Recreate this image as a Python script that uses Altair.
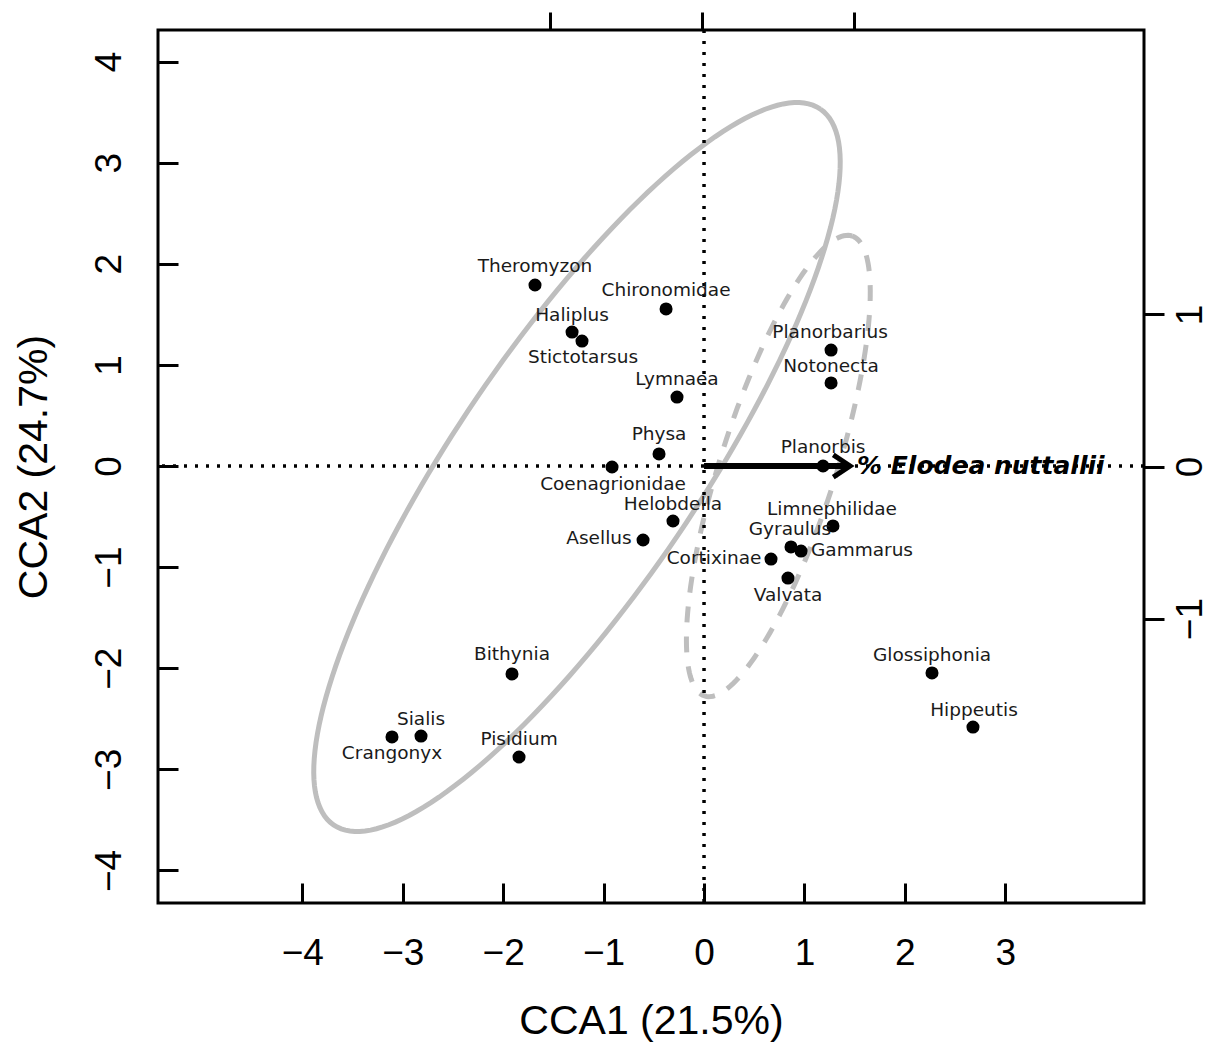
import math
import altair as alt
import pandas as pd

# ---- data ----
species = ["Theromyzon", "Chironomidae", "Haliplus", "Stictotarsus", "Planorbarius",
           "Notonecta", "Lymnaea", "Physa", "Coenagrionidae", "Planorbis", "Helobdella",
           "Limnephilidae", "Asellus", "Gyraulus", "Gammarus", "Cortixinae", "Valvata",
           "Bithynia", "Glossiphonia", "Hippeutis", "Sialis", "Crangonyx", "Pisidium"]
cca1 = [-1.683, -0.378, -1.314, -1.215, 1.265, 1.265, -0.269, -0.448, -0.916, 1.185, -0.309,
        1.284, -0.607, 0.866, 0.966, 0.667, 0.836, -1.912, 2.270, 2.678, -2.818, -3.107, -1.842]
cca2 = [1.790, 1.553, 1.325, 1.236, 1.147, 0.821, 0.682, 0.119, -0.010, 0.0, -0.544,
        -0.593, -0.732, -0.801, -0.841, -0.920, -1.108, -2.057, -2.047, -2.582, -2.671, -2.680, -2.878]
label_x = [-1.683, -0.378, -1.314, -1.205, 1.255, 1.265, -0.269, -0.448, -0.906, 1.185, -0.309,
           1.274, -1.046, 0.856, 1.573, 0.100, 0.836, -1.912, 2.270, 2.688, -2.818, -3.107, -1.842]
label_y = [1.974, 1.739, 1.490, 1.078, 1.325, 0.989, 0.857, 0.317, -0.178, 0.188, -0.376,
           -0.425, -0.712, -0.623, -0.831, -0.910, -1.272, -1.860, -1.869, -2.413, -2.500, -2.839, -2.700]

x_ticks = [-4, -3, -2, -1, 0, 1, 2, 3]
y_ticks = [-4, -3, -2, -1, 0, 1, 2, 3, 4]
top_ticks = [-1, 0, 1]
right_ticks = [-1, 0, 1]

x_domain = [-5.437, 4.381]
y_domain = [-4.322, 4.312]
top_domain = [-3.57, 2.90]
right_domain = [-2.87, 2.87]

arrow_end = [1.454]
arrow_label = ["% Elodea nuttallii"]
arrow_label_x = [1.523]

# ellipse parameters: centre x, centre y, semi-axis a, semi-axis b, rotation (deg)
ell_solid = dict(cx=-1.265, cy=-0.01, a=4.29, b=1.21, phi=55.6)
ell_dashed = dict(cx=0.74, cy=0.0, a=2.39, b=0.574, phi=72.1)

x_title = "CCA1 (21.5%)"
y_title = "CCA2 (24.7%)"

# ---- scales and axes ----
xs = alt.Scale(domain=x_domain, nice=False, zero=False)
ys = alt.Scale(domain=y_domain, nice=False, zero=False)

x_axis = alt.Axis(orient="bottom", values=x_ticks, offset=-20, tickSize=20, tickWidth=3,
                  tickColor="black", domain=False, grid=False, labelFont="Liberation Sans",
                  labelFontSize=37, labelColor="black", labelPadding=32, labelFlush=False,
                  labelOverlap=False, title=x_title, titleFont="Liberation Sans",
                  titleFontSize=41, titleFontWeight="normal", titleColor="black",
                  titlePadding=30)
y_axis = alt.Axis(orient="left", values=y_ticks, offset=-20, tickSize=20, tickWidth=3,
                  tickColor="black", domain=False, grid=False, labelFont="Liberation Sans",
                  labelFontSize=37, labelColor="black", labelPadding=30, labelAngle=270,
                  labelAlign="center", labelBaseline="bottom", labelFlush=False,
                  labelOverlap=False, title=y_title, titleFont="Liberation Sans",
                  titleFontSize=41, titleFontWeight="normal", titleColor="black",
                  titlePadding=35)


def X(field=None, datum=None):
    if datum is not None:
        return alt.X(datum=datum, type="quantitative", scale=xs, axis=x_axis)
    return alt.X(field, type="quantitative", scale=xs, axis=x_axis)


def Y(field=None, datum=None):
    if datum is not None:
        return alt.Y(datum=datum, type="quantitative", scale=ys, axis=y_axis)
    return alt.Y(field, type="quantitative", scale=ys, axis=y_axis)


df = pd.DataFrame({"species": species, "cca1": cca1, "cca2": cca2,
                   "lx": label_x, "ly": label_y})
arrow_df = pd.DataFrame({"x0": [0.0], "x1": arrow_end, "y": [0.0],
                         "label": arrow_label, "lx": arrow_label_x})


def ellipse(p, dash=None):
    phi = math.radians(p["phi"])
    ex = (f"{p['cx']} + {p['a']}*cos(datum.t*PI/180)*{math.cos(phi)}"
          f" - {p['b']}*sin(datum.t*PI/180)*{math.sin(phi)}")
    ey = (f"{p['cy']} + {p['a']}*cos(datum.t*PI/180)*{math.sin(phi)}"
          f" + {p['b']}*sin(datum.t*PI/180)*{math.cos(phi)}")
    kw = dict(color="#bebebe", strokeWidth=5)
    if dash:
        kw["strokeDash"] = dash
    return (alt.Chart(alt.sequence(0, 362, 2, as_="t"))
            .transform_calculate(ex=ex, ey=ey)
            .mark_line(**kw)
            .encode(x=X("ex"), y=Y("ey"), order="t:Q"))


solid = ellipse(ell_solid)
dashed = ellipse(ell_dashed, dash=[16, 14])

hline = alt.Chart(arrow_df).mark_rule(color="black", strokeWidth=3.5, strokeDash=[3, 8]).encode(
    y=Y(datum=0))
vline = alt.Chart(arrow_df).mark_rule(color="black", strokeWidth=3.5, strokeDash=[3, 8]).encode(
    x=X(datum=0))

arrow_line = alt.Chart(arrow_df).mark_rule(color="black", strokeWidth=6).encode(
    x=X("x0"), x2="x1", y=Y("y"))
arrow_head = alt.Chart(arrow_df).mark_point(
    shape="M -1.5 -1 L 0 0 L -1.5 1", filled=False, color="black", strokeWidth=5,
    size=500, opacity=1).encode(x=X("x1"), y=Y("y"))
arrow_text = alt.Chart(arrow_df).mark_text(
    align="left", baseline="middle", font="DejaVu Sans", fontSize=25, fontWeight="bold",
    fontStyle="italic", color="black").encode(x=X("lx"), y=Y("y"), text="label:N")

points = alt.Chart(df).mark_circle(color="black", size=170, opacity=1).encode(
    x=X("cca1"), y=Y("cca2"))
labels = alt.Chart(df).mark_text(
    align="center", baseline="middle", font="DejaVu Sans", fontSize=18.5,
    color="#1a1a1a").encode(x=X("lx"), y=Y("ly"), text="species:N")

main = alt.layer(solid, dashed, hline, vline, arrow_line, arrow_head, points, labels, arrow_text)

secondary = alt.Chart(pd.DataFrame({"a": [0.0], "b": [0.0]})).mark_point(opacity=0).encode(
    x=alt.X("a:Q", scale=alt.Scale(domain=top_domain, nice=False, zero=False),
            axis=alt.Axis(orient="top", values=top_ticks, labels=False, tickSize=18,
                          tickWidth=3, tickColor="black", domain=False, grid=False,
                          title=None)),
    y=alt.Y("b:Q", scale=alt.Scale(domain=right_domain, nice=False, zero=False),
            axis=alt.Axis(orient="right", values=right_ticks, tickSize=20, tickWidth=3,
                          tickColor="black", domain=False, grid=False,
                          labelFont="Liberation Sans", labelFontSize=37,
                          labelColor="black", labelPadding=8, labelAngle=270,
                          labelAlign="center", labelBaseline="top", labelFlush=False,
                          labelOverlap=False, title=None)),
)

chart = (alt.layer(main, secondary)
         .resolve_scale(x="independent", y="independent")
         .properties(width=986, height=873, background="white",
                     autosize=alt.AutoSizeParams(type="none"),
                     padding={"left": 150, "top": 22, "right": 59, "bottom": 142})
         .configure_view(stroke="black", strokeWidth=3))

chart.save("out.html", embed_options={"renderer": "svg", "actions": False})
